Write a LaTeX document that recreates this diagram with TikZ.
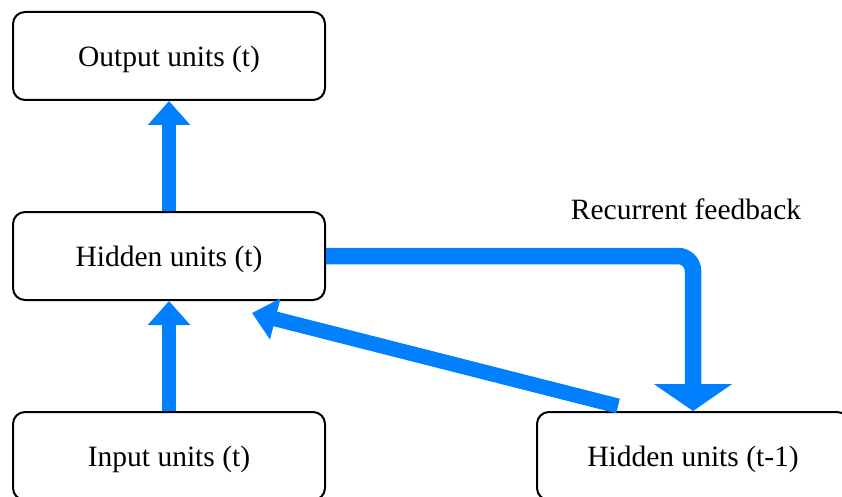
\documentclass[tikz,border=0pt]{standalone}
\usepackage{fontspec}
\setmainfont{Liberation Serif}
\usetikzlibrary{arrows.meta,calc}
\definecolor{flowblue}{RGB}{0,128,255}
\begin{document}
\begin{tikzpicture}[x=1pt,y=-1pt,
  unitbox/.style={draw=black, line width=2pt, rounded corners=12pt,
    minimum width=312pt, minimum height=88pt, inner sep=0pt,
    text height=27pt, text depth=6.5pt,
    font=\fontsize{29.5}{35}\selectfont},
  flow/.style={draw=flowblue, line width=14pt,
    -{Triangle[length=24pt,width=41pt]}, color=flowblue},
  feedback/.style={draw=flowblue, line width=16.5pt, rounded corners=15pt,
    -{Triangle[length=27pt,width=77pt]}, color=flowblue}]
  \useasboundingbox (0,0) rectangle (842,497);
  \begin{scope}
    \clip (0,0) rectangle (842,497);
    % unit layers
    \node[unitbox] (out) at (169,56)  {Output units (t)};
    \node[unitbox] (hid) at (169,256) {Hidden units (t)};
    \node[unitbox] (inp) at (169,456) {Input units (t)};
    \node[unitbox] (hm1) at (693,456) {Hidden units (t-1)};
    % feed-forward connections
    \draw[flow] (inp.north) -- (hid.south);
    \draw[flow] (hid.north) -- (out.south);
    % copy of hidden state to the previous-step layer
    \draw[feedback] (hid.east) -| (hm1.north);
    % previous hidden state fed back into the hidden layer
    \coordinate (ctxstart) at (618,406);
    \coordinate (ctxend) at (252,313);
    \draw[flow, line width=15pt] (ctxstart) -- (ctxend);
    \node[font=\fontsize{29.5}{35}\selectfont, anchor=base] (fblabel) at (686,219) {Recurrent feedback};
  \end{scope}
\end{tikzpicture}
\end{document}
